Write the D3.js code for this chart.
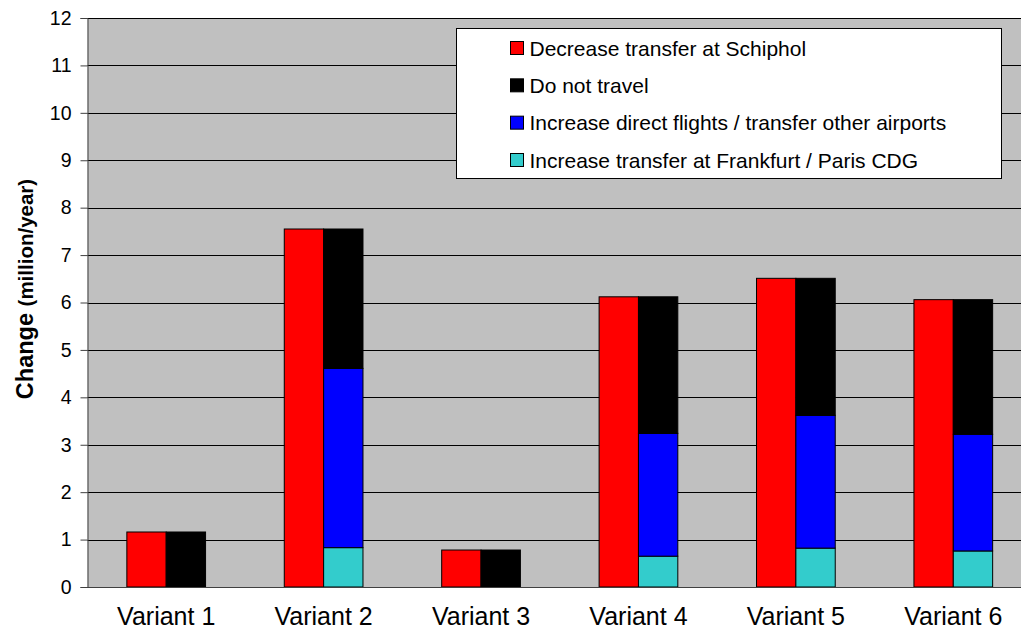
<!DOCTYPE html>
<html>
<head>
<meta charset="utf-8">
<script src="https://cdn.jsdelivr.net/npm/d3@7"></script>
<style>
  html, body { margin: 0; padding: 0; background: #ffffff; }
  svg { display: block; font-family: "Liberation Sans", Arial, sans-serif; }
</style>
</head>
<body>
<svg id="chart" width="1021" height="630"></svg>
<script>
// Categories and series (million passengers per year)
const variants = ["Variant 1", "Variant 2", "Variant 3", "Variant 4", "Variant 5", "Variant 6"];
const decreaseSchiphol = [1.16, 7.55, 0.78, 6.12, 6.51, 6.06];
const doNotTravel      = [1.16, 2.94, 0.78, 2.88, 2.89, 2.84];
const directOther      = [0,    3.78, 0,    2.59, 2.80, 2.46];
const transferFraCdg   = [0,    0.83, 0,    0.65, 0.82, 0.76];
const yTicks = [0, 1, 2, 3, 4, 5, 6, 7, 8, 9, 10, 11, 12];

const seriesNames = {
  red:   "Decrease transfer at Schiphol",
  black: "Do not travel",
  blue:  "Increase direct flights / transfer other airports",
  cyan:  "Increase transfer at Frankfurt / Paris CDG"
};
const colors = { red: "#ff0000", black: "#000000", blue: "#0000ff", cyan: "#33cccc" };

const svg = d3.select("#chart");

const plot = { left: 87.5, right: 1032, top: 18, bottom: 587 };

const x0 = d3.scaleBand()
  .domain(variants)
  .range([plot.left, plot.right])
  .paddingInner(0.5)
  .paddingOuter(0.25);

const x1 = d3.scaleBand()
  .domain(["single", "stack"])
  .range([0, x0.bandwidth()]);

const y = d3.scaleLinear().domain([0, 12]).range([plot.bottom, plot.top]);

// Plot background
svg.append("rect")
  .attr("x", plot.left).attr("y", plot.top)
  .attr("width", plot.right - plot.left).attr("height", plot.bottom - plot.top)
  .attr("fill", "#c0c0c0");

// Horizontal gridlines
svg.append("g")
  .selectAll("line")
  .data(yTicks.filter(t => t > 0))
  .join("line")
  .attr("x1", plot.left).attr("x2", plot.right)
  .attr("y1", d => Math.round(y(d)) + 0.5).attr("y2", d => Math.round(y(d)) + 0.5)
  .attr("stroke", "#000").attr("stroke-width", 1);

// Rows for stacking
const rows = variants.map((v, i) => ({
  variant: v,
  cyan: transferFraCdg[i],
  blue: directOther[i],
  black: doNotTravel[i]
}));

const stack = d3.stack().keys(["cyan", "blue", "black"]);
const layers = stack(rows);

// Single column: decrease transfer at Schiphol
svg.append("g")
  .selectAll("rect")
  .data(variants.map((v, i) => ({ variant: v, value: decreaseSchiphol[i] })))
  .join("rect")
  .attr("x", d => x0(d.variant) + x1("single"))
  .attr("y", d => y(d.value))
  .attr("width", x1.bandwidth())
  .attr("height", d => y(0) - y(d.value))
  .attr("fill", colors.red)
  .attr("stroke", "#000").attr("stroke-width", 1);

// Stacked column: where the passengers go instead
svg.append("g")
  .selectAll("g")
  .data(layers)
  .join("g")
  .attr("fill", d => colors[d.key])
  .selectAll("rect")
  .data(d => d.filter(s => s[1] - s[0] > 0))
  .join("rect")
  .attr("x", d => x0(d.data.variant) + x1("stack"))
  .attr("y", d => y(d[1]))
  .attr("width", x1.bandwidth())
  .attr("height", d => y(d[0]) - y(d[1]))
  .attr("stroke", "#000").attr("stroke-width", 1);

// Y axis
const yAxis = d3.axisLeft(y).tickValues(yTicks).tickSize(7).tickPadding(9).tickFormat(d3.format("d"));
const gy = svg.append("g")
  .attr("transform", `translate(${plot.left},0)`)
  .call(yAxis);
gy.select(".domain").attr("stroke", "#404040");
gy.selectAll(".tick line").attr("stroke", "#404040");
gy.selectAll(".tick text")
  .attr("fill", "#000")
  .style("font-size", "19.5px")
  .style("font-family", "'Liberation Sans', Arial, sans-serif");

// X axis (baseline and category labels)
const xAxis = d3.axisBottom(x0).tickSize(0).tickPadding(20);
const gx = svg.append("g")
  .attr("transform", `translate(0,${plot.bottom})`)
  .call(xAxis);
gx.select(".domain").attr("stroke", "#404040");
gx.selectAll(".tick text")
  .attr("fill", "#000")
  .style("font-size", "25px")
  .style("font-family", "'Liberation Sans', Arial, sans-serif");

// Y axis title
const title = svg.append("text")
  .attr("transform", `translate(33,289) rotate(-90)`)
  .attr("text-anchor", "middle")
  .attr("font-weight", "bold")
  .attr("fill", "#000");
title.append("tspan").attr("font-size", "23.5px").text("Change ");
title.append("tspan").attr("font-size", "20.5px").text("(million/year)");

// Legend
const legendItems = ["red", "black", "blue", "cyan"];
const legend = svg.append("g");
legend.append("rect")
  .attr("x", 456.5).attr("y", 28.5)
  .attr("width", 545).attr("height", 150)
  .attr("fill", "#fff").attr("stroke", "#000").attr("stroke-width", 1);

const legendRow = d3.scalePoint().domain(legendItems).range([48, 160]);

const li = legend.selectAll("g.item")
  .data(legendItems)
  .join("g")
  .attr("class", "item")
  .attr("transform", d => `translate(0,${legendRow(d)})`);
li.append("rect")
  .attr("x", 510.5).attr("y", -6.5)
  .attr("width", 13).attr("height", 13)
  .attr("fill", d => colors[d])
  .attr("stroke", "#000").attr("stroke-width", 1);
li.append("text")
  .attr("x", 529.5).attr("y", 7.5)
  .attr("font-size", "21px")
  .attr("fill", "#000")
  .text(d => seriesNames[d]);
</script>
</body>
</html>
